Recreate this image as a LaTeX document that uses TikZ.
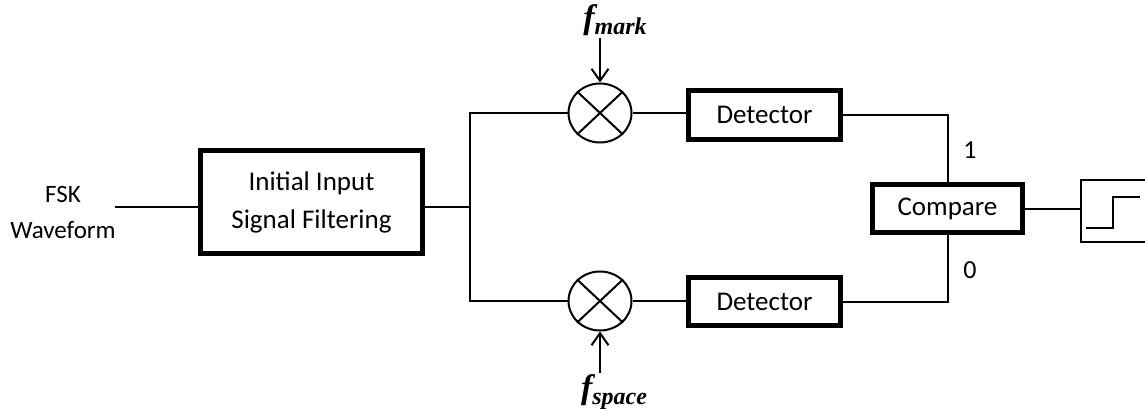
\documentclass[tikz,border=0pt]{standalone}
\usepackage{fontspec}
\setmainfont{Carlito}
\newfontfamily\ffont{Liberation Serif}
\usetikzlibrary{shapes.geometric,arrows.meta}
\begin{document}
\begin{tikzpicture}[x=1pt,y=-1pt,
  thickbox/.style={draw, line width=5pt, inner sep=0pt, font=\fontsize{27}{33}\selectfont},
  wire/.style={line width=2pt},
  mixer/.style={draw, ellipse, line width=2pt, minimum width=63pt, minimum height=59pt, inner sep=0pt},
  lbl/.style={font=\fontsize{26}{32}\selectfont, inner sep=0pt},
  flbl/.style={inner sep=0pt, font=\ffont\bfseries\itshape\fontsize{34}{34}\selectfont},
  arr/.style={wire, -{Straight Barb[length=12pt,width=17pt,line width=2pt]}},
]
\clip (0,0) rectangle (1145,408);
\fill[white] (0,0) rectangle (1145,408);

% nodes
\node[lbl, align=center, font=\fontsize{25}{36}\selectfont] (fsk) at (63,212) {FSK\\Waveform};
\node[thickbox, align=center, font=\fontsize{27}{38}\selectfont, minimum width=222pt, minimum height=103pt] (filt) at (311.5,202) {Initial Input\\Signal Filtering};
\node[mixer] (m1) at (600,113) {};
\node[mixer] (m2) at (600,301) {};
\node[thickbox, minimum width=152pt, minimum height=49pt] (d1) at (764.5,115) {Detector};
\node[thickbox, minimum width=152pt, minimum height=48pt] (d2) at (764.5,301.5) {Detector};
\node[thickbox, minimum width=150pt, minimum height=48pt] (cmp) at (947.5,208.5) {Compare};
\node[draw, line width=2pt, minimum width=100pt, minimum height=62pt, inner sep=0pt] (out) at (1131,211) {};
\node[lbl] (one) at (970,150) {1};
\node[lbl] (zero) at (970,270) {0};
\node[flbl] (fmark) at (615,20) {f\raisebox{-6pt}{\fontsize{24}{24}\selectfont mark}};
\node[flbl] (fspace) at (614,392) {f\raisebox{-6pt}{\fontsize{24}{24}\selectfont space}};

% mixer crosses
\draw[wire] (m1.north west) -- (m1.south east);
\draw[wire] (m1.north east) -- (m1.south west);
\draw[wire] (m2.north west) -- (m2.south east);
\draw[wire] (m2.north east) -- (m2.south west);

% coordinates
\coordinate (in) at (115,207);
\coordinate (j) at (470,207);
\coordinate (fmt) at (600,38);
\coordinate (fsb) at (600,373);

% connectors
\draw[wire] (in) -- (in -| filt.west);
\draw[wire] (filt.east |- j) -- (j);
\draw[wire] (m1.west) -| (j) |- (m2.west);
\draw[wire] (m1.east) -- (m1.east -| d1.west);
\draw[wire] (m2.east) -- (m2.east -| d2.west);
\draw[wire] (d1.east) -| (cmp.north);
\draw[wire] (d2.east) -| (cmp.south);
\draw[wire] (cmp.east) -- (cmp.east -| out.west);
\draw[arr] (fmt) -- (m1.north);
\draw[arr] (fsb) -- (m2.south);

% step symbol
\draw[wire] (1086,228) -| (1113,197) -- (1140,197);
\end{tikzpicture}
\end{document}
